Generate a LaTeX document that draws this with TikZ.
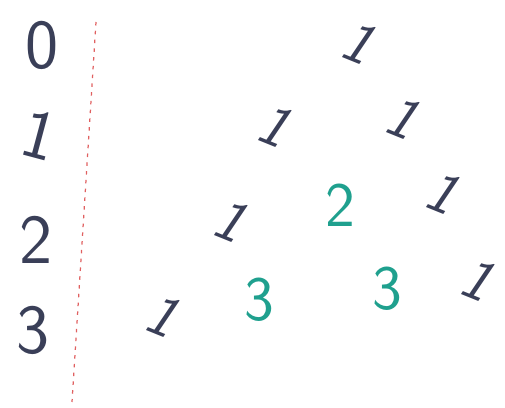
\documentclass[tikz,border=0pt]{standalone}
\usepackage{amsmath,amssymb,amsfonts}
\usepackage{tikz}
\definecolor{ink}{HTML}{3A3F58}
\definecolor{tealink}{HTML}{1FA08E}
\definecolor{redink}{HTML}{E06060}

\begin{document}
\begin{tikzpicture}[x=0.02cm,y=-0.02cm]
\useasboundingbox (0,0) rectangle (505,408);
\tikzset{
  rowlab/.style={text=ink,font=\sffamily\fontsize{40}{40}\selectfont,inner sep=0pt},
  one/.style={text=ink,font=\sffamily\itshape\fontsize{34}{34}\selectfont,inner sep=0pt,rotate=-22},
  sum/.style={text=tealink,font=\sffamily\fontsize{36}{36}\selectfont,inner sep=0pt}
}
\node[rowlab] (l0) at (42,45) {0};
\node[rowlab,rotate=-15] (l1) at (40,135) {1};
\node[rowlab] (l2) at (36,240) {2};
\node[rowlab] (l3) at (33,330) {3};

\coordinate (top) at (96,22);
\coordinate (bot) at (72,402);
\draw[redink,dash pattern=on 2pt off 3pt,line width=0.7pt] (top) -- (bot);

\node[one] (a0) at (358,42) {1};
\node[one] (b0) at (274,125) {1};
\node[one] (b1) at (402,117) {1};
\node[one] (c0) at (230,220) {1};
\node[sum] (c1) at (340,205) {2};
\node[one] (c2) at (442,192) {1};
\node[one] (d0) at (162,315) {1};
\node[sum] (d1) at (259,300) {3};
\node[sum] (d2) at (387,289) {3};
\node[one] (d3) at (477,279) {1};
\end{tikzpicture}
\end{document}
